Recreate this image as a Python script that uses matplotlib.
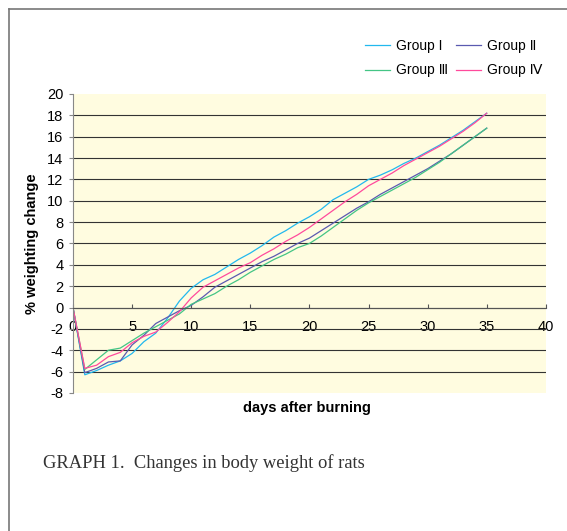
import numpy as np
import matplotlib.pyplot as plt
from matplotlib.lines import Line2D

# dias e variação de peso (%) por grupo
dias = np.arange(0, 36)

grupo_1 = [0, -6.3, -5.9, -5.4, -5.0, -4.3, -3.2, -2.4, -1.0, 0.6,
           1.8, 2.6, 3.1, 3.8, 4.5, 5.1, 5.8, 6.6, 7.2, 7.9,
           8.5, 9.2, 10.1, 10.7, 11.3, 12.0, 12.4, 12.9, 13.5, 14.0,
           14.6, 15.2, 15.9, 16.6, 17.4, 18.2]
grupo_2 = [0, -6.1, -5.7, -5.1, -5.0, -3.5, -2.6, -1.5, -0.9, -0.3,
           0.2, 1.0, 1.9, 2.5, 3.1, 3.7, 4.3, 4.8, 5.4, 6.0,
           6.5, 7.2, 7.9, 8.6, 9.3, 9.9, 10.6, 11.2, 11.8, 12.4,
           13.0, 13.7, 14.4, 15.2, 16.0, 16.8]
grupo_3 = [0, -5.8, -4.9, -4.0, -3.8, -3.1, -2.4, -1.8, -1.2, -0.6,
           0.3, 0.8, 1.3, 2.0, 2.6, 3.3, 3.9, 4.5, 5.0, 5.6,
           6.0, 6.7, 7.5, 8.3, 9.1, 9.8, 10.4, 11.0, 11.6, 12.2,
           12.9, 13.6, 14.4, 15.2, 16.0, 16.8]
grupo_4 = [0, -5.7, -5.4, -4.6, -4.2, -3.3, -2.7, -2.3, -1.4, -0.4,
           0.9, 1.9, 2.5, 3.1, 3.7, 4.2, 4.9, 5.5, 6.2, 6.8,
           7.5, 8.3, 9.1, 9.9, 10.6, 11.4, 12.0, 12.6, 13.3, 13.9,
           14.5, 15.1, 15.8, 16.5, 17.3, 18.2]

rotulos = ['Group I', 'Group Ⅱ', 'Group Ⅲ', 'Group Ⅳ']
cores = ['#22b8ee', '#5a5ab0', '#44c585', '#ff4a9c']

plt.rcParams['font.family'] = ['Liberation Sans', 'DejaVu Sans']
plt.rcParams['axes.unicode_minus'] = False

fig = plt.figure(figsize=(5.67, 5.31), dpi=100)
ax = fig.add_axes([0.1287, 0.26, 0.834, 0.563])
ax.set_facecolor('#fffce0')

linhas = []
for serie, cor, rot in zip([grupo_1, grupo_2, grupo_3, grupo_4], cores, rotulos):
    l, = ax.plot(dias, serie, color=cor, lw=0.9, label=rot)
    linhas.append(l)

ax.set_xlim(0, 40)
ax.set_ylim(-8, 20)
ax.set_xticks(range(0, 41, 5))
ax.set_yticks(range(-8, 21, 2))

ax.grid(axis='y', color='#333333', lw=0.8)
ax.set_axisbelow(True)
gl = ax.yaxis.get_gridlines()
gl[0].set_visible(False)
gl[-1].set_visible(False)

ax.spines['top'].set_visible(False)
ax.spines['right'].set_visible(False)
ax.spines['left'].set_color('#888888')
ax.spines['bottom'].set_position(('data', 0))
ax.spines['bottom'].set_color('#555555')

ax.tick_params(axis='x', direction='in', length=3, pad=9, labelsize=10.5,
               color='#555555')
ax.tick_params(axis='y', direction='out', length=3, pad=4, labelsize=10.5,
               color='#888888')

ax.set_ylabel('% weighting change', fontsize=10.5, fontweight='bold', labelpad=6)
fig.text(0.542, 0.232, 'days after burning', fontsize=10.5, fontweight='bold',
         ha='center', va='center')

# legenda em duas colunas (ordem por coluna)
ordem = [0, 2, 1, 3]
fig.legend([linhas[i] for i in ordem], [rotulos[i] for i in ordem],
           ncol=2, frameon=False, fontsize=10, loc='upper left',
           bbox_to_anchor=(0.622, 0.95), handlelength=1.8, handletextpad=0.4,
           columnspacing=0.6, labelspacing=0.75)

fig.text(0.076, 0.128, 'GRAPH 1.  Changes in body weight of rats',
         family='Liberation Serif', fontsize=13.3, color='#333333',
         ha='left', va='center')

# moldura
fig.add_artist(Line2D([9 / 567, 1], [1 - 9 / 531, 1 - 9 / 531],
                      color='#777777', lw=1.2, transform=fig.transFigure))
fig.add_artist(Line2D([9 / 567, 9 / 567], [0, 1 - 9 / 531],
                      color='#777777', lw=1.2, transform=fig.transFigure))

fig.savefig('out.png', dpi=100)
